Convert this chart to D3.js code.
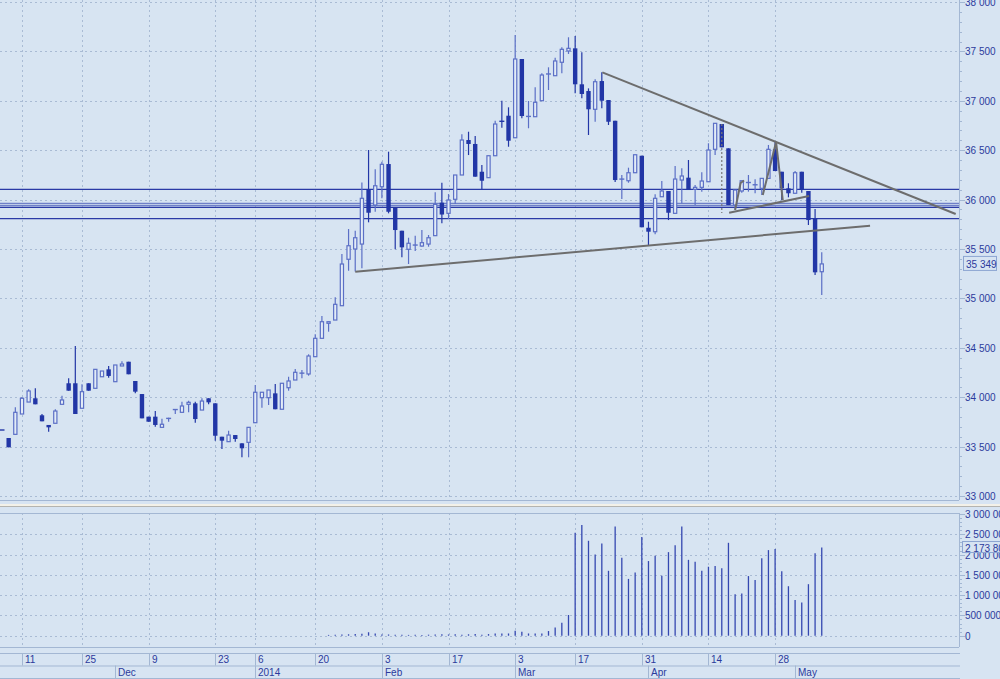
<!DOCTYPE html>
<html><head><meta charset="utf-8">
<script src="https://cdn.jsdelivr.net/npm/d3@7"></script>
<style>
body{margin:0;background:#d7e4f2;overflow:hidden}
svg{display:block}
text{font-family:"Liberation Sans",Arial,sans-serif;font-size:10px;fill:#2b3a9c}
</style>
</head><body>
<svg id="chart" width="1000" height="679"></svg>
<script>
// ---- data (trading-day index starts at firstIndex; index 0 = 11 Nov 2013) ----
const firstIndex = -3;
const open = [33668,33587,33624,33830,33951,33989,33817,33719,33736,33928,34141,34141,33888,34141,34090,34207,34282,34157,34316,34359,34164,34032,33803,33803,33695,33779,33870,33847,33928,33938,33870,33989,33938,33600,33550,33617,33533,33543,33742,33995,33995,34039,33878,34096,34174,34242,34235,34410,34596,34748,34781,34926,35396,35500,35550,36104,35945,36130,36360,35918,35685,35497,35533,35530,35550,35635,35969,35861,36003,36249,36603,36563,36282,36222,36444,36795,36849,36626,37423,36839,36839,37001,37268,37254,37390,37504,37531,37167,37099,36914,37200,37008,36798,36205,36191,36272,36444,35715,35675,36029,36087,35861,36198,36222,36104,36124,36181,36509,36765,36519,35945,36087,36171,36148,36114,36215,36509,36282,36114,36064,36282,36087,35811,35270];
const high = [33668,33587,33898,34002,34080,34090,33830,33719,33877,34015,34191,34518,34130,34141,34282,34265,34316,34326,34363,34359,34164,34032,33803,33860,33782,33792,33880,33954,33965,33954,33989,33989,33938,33600,33661,33617,33533,33695,34123,34050,34073,34134,34141,34207,34285,34275,34434,34637,34822,34764,35011,35449,35702,35685,36173,36502,36306,36383,36485,35918,35685,35614,35635,35692,35642,36074,36171,36056,36249,36661,36687,36643,36350,36444,36798,37001,36934,37666,37423,36998,37136,37278,37339,37436,37541,37643,37656,37491,37126,37217,37288,37008,36798,36249,36323,36454,36444,35776,36054,36188,36087,36340,36317,36401,36148,36276,36570,36772,36765,36519,36097,36191,36249,36205,36215,36553,36586,36282,36165,36289,36282,36087,35905,35467];
const low = [33668,33493,33624,33830,33951,33928,33756,33651,33736,33928,34066,33830,33888,34066,34090,34207,34197,34157,34316,34232,34039,33786,33752,33701,33695,33752,33830,33847,33847,33742,33870,33928,33560,33476,33550,33550,33392,33392,33742,33894,33921,33878,33878,34066,34174,34191,34218,34410,34596,34663,34781,34926,35280,35272,35305,35770,35877,36013,35861,35497,35416,35348,35480,35523,35523,35635,35760,35803,35955,36249,36451,36232,36104,36222,36444,36728,36535,36626,36823,36722,36839,37001,37109,37254,37278,37474,37076,37025,36654,36788,36924,36755,36178,36006,36171,36272,35720,35540,35649,36029,35793,35861,35962,36097,35945,36080,36181,36451,36529,35945,35895,36070,36080,36064,36046,36215,36289,35996,36023,36064,36070,35743,35237,35034];
const close = [33668,33493,33847,33989,34063,33928,33756,33695,33860,33972,34066,33830,34056,34066,34282,34265,34215,34326,34336,34232,34056,33786,33752,33719,33726,33792,33880,33911,33948,33779,33961,33948,33610,33560,33617,33577,33483,33695,34050,34050,34073,33878,34141,34164,34252,34245,34417,34596,34764,34764,34940,35348,35533,35614,36013,35867,36140,36357,35877,35692,35517,35558,35547,35564,35614,35952,35849,35996,36249,36603,36563,36232,36191,36444,36765,36790,36596,37423,36846,36845,36985,37261,37275,37403,37521,37531,37167,37069,36914,37193,37001,36788,36198,36210,36272,36454,35720,35675,36013,36087,35867,36208,36239,36097,36124,36188,36502,36772,36529,35945,36097,36191,36175,36152,36215,36509,36289,36114,36064,36272,36097,35793,35264,35349];
const volume = [0,0,0,0,0,0,0,0,0,0,0,0,0,0,0,0,0,0,0,0,0,0,0,0,0,0,0,0,0,0,0,0,0,0,0,0,0,0,0,0,0,0,0,0,0,0,0,0,0,
  20000,25000,30000,35000,40000,45000,85000,55000,30000,30000,25000,25000,20000,25000,20000,25000,30000,35000,30000,35000,25000,35000,40000,25000,40000,55000,55000,55000,
  123000,100000,55000,55000,55000,115000,200000,320000,510000,2540000,2730000,2340000,2000000,2270000,1600000,2690000,1920000,1400000,1560000,2430000,1840000,1970000,1480000,2060000,2230000,2690000,1870000,1820000,1600000,1700000,1720000,1660000,2290000,1020000,1040000,1470000,1370000,1910000,2110000,2140000,1590000,1220000,880000,820000,1270000,2030000,2173800];
const priceTicks = [33000,33500,34000,34500,35000,35500,36000,36500,37000,37500,38000];
const volumeTicks = [0,500000,1000000,1500000,2000000,2500000,3000000];
const dayTickIndex = [0,9,19,29,35,44,54,64,74,83,93,103,113];
const dayTickLabels = ["11","25","9","23","6","20","3","17","3","17","31","14","28"];
const monthTickIndex = [14,35,54,74,94,116];
const monthTickLabels = ["Dec","2014","Feb","Mar","Apr","May"];
const levelLines = [36104,35961,35939,35921,35808];
const levelStyles = ["dark","light","light","dark","dark"];
const trendLines = [
  [[50,35270],[127.25,35736]],
  [[87.08,37288],[140.1,35854]],
  [[106.1,35867],[118.1,36036]],
  [[107.0,35895],[107.82,36168],[108.34,36193]],
  [[111.15,36047],[113.15,36583],[114.15,35996]]
];
const markerLine = [[105,36765],[105,35864]];
const lastPrice = 35349;
const lastVolume = 2173800;

// ---- layout ----
const svg = d3.select("#chart");
const W = 1000, plotRight = 959;
const priceTop = 0, priceBottom = 500, volTop = 513, volBottom = 647;
const x = d3.scaleLinear().domain([0,113]).range([22,775.1]);
const y = d3.scaleLinear().domain([33000,38000]).range([496,2]);
const yv = d3.scaleLinear().domain([0,3000000]).range([635.7,514]);
const gridCol = "#a9bbd4", axisCol = "#a3b7d3";
const downCol = "#2236a6", upCol = "#5b6fc6", bg = "#d7e4f2";

svg.append("rect").attr("width",W).attr("height",679).attr("fill",bg);

const fmt = v => d3.format(",")(v).replace(/,/g," ");

// price grid
const g = svg.append("g");
g.selectAll(".hg").data(priceTicks).join("line")
  .attr("x1",0).attr("x2",plotRight).attr("y1",d=>Math.round(y(d))+0.5).attr("y2",d=>Math.round(y(d))+0.5)
  .attr("stroke",gridCol).attr("stroke-dasharray","2,3");
g.selectAll(".vg").data(dayTickIndex).join("line")
  .attr("x1",d=>Math.round(x(d))+0.5).attr("x2",d=>Math.round(x(d))+0.5).attr("y1",priceTop).attr("y2",priceBottom)
  .attr("stroke",gridCol).attr("stroke-dasharray","2,3");
// volume grid
g.selectAll(".hvg").data(volumeTicks.slice(0,-1)).join("line")
  .attr("x1",0).attr("x2",plotRight).attr("y1",d=>Math.round(yv(d))+0.5).attr("y2",d=>Math.round(yv(d))+0.5)
  .attr("stroke",gridCol).attr("stroke-dasharray","2,3");
g.selectAll(".vvg").data(dayTickIndex).join("line")
  .attr("x1",d=>Math.round(x(d))+0.5).attr("x2",d=>Math.round(x(d))+0.5).attr("y1",volTop).attr("y2",volBottom)
  .attr("stroke",gridCol).attr("stroke-dasharray","2,3");

// panel borders
svg.append("line").attr("x1",0).attr("x2",plotRight).attr("y1",priceBottom+0.5).attr("y2",priceBottom+0.5).attr("stroke",axisCol);
svg.append("rect").attr("x",0).attr("y",504).attr("width",W).attr("height",2).attr("fill","#f3f1e8");
svg.append("line").attr("x1",0).attr("x2",W).attr("y1",506.5).attr("y2",506.5).attr("stroke","#b4b4b0");
svg.append("line").attr("x1",0).attr("x2",plotRight).attr("y1",volTop+0.5).attr("y2",volTop+0.5).attr("stroke",axisCol);
svg.append("line").attr("x1",0).attr("x2",plotRight).attr("y1",volBottom+0.5).attr("y2",volBottom+0.5).attr("stroke",axisCol);

// level lines
svg.selectAll(".lvl").data(levelLines).join("line")
  .attr("x1",0).attr("x2",plotRight).attr("y1",d=>y(d)).attr("y2",d=>y(d))
  .attr("stroke",(d,i)=>levelStyles[i]==="dark"?"#2a3aa6":"#6f80c8")
  .attr("stroke-width",(d,i)=>levelStyles[i]==="dark"?1.3:1.4);

// candles
const candles = open.map((o,k)=>({i:k+firstIndex,o,h:high[k],l:low[k],c:close[k],v:volume[k]}));
const cg = svg.append("g");
candles.forEach(d=>{
  const cx = x(d.i);
  const up = d.c > d.o;
  const col = up ? upCol : downCol;
  const yh = y(d.h), yl = y(d.l), yo = y(d.o), yc = y(d.c);
  const top = Math.min(yo,yc), bot = Math.max(yo,yc);
  if (yl - yh > 0.5) cg.append("line").attr("x1",cx).attr("x2",cx).attr("y1",yh).attr("y2",yl).attr("stroke",col).attr("stroke-width",1.2);
  if (bot - top < 1.5) {
    cg.append("line").attr("x1",cx-2.5).attr("x2",cx+2.5).attr("y1",(top+bot)/2).attr("y2",(top+bot)/2).attr("stroke",col).attr("stroke-width",1.4);
  } else if (up) {
    cg.append("rect").attr("x",cx-1.6).attr("y",top).attr("width",3.2).attr("height",bot-top)
      .attr("fill","#e3ecf7").attr("stroke",col).attr("stroke-width",1.2);
  } else {
    cg.append("rect").attr("x",cx-2.2).attr("y",top).attr("width",4.4).attr("height",bot-top).attr("fill",col);
  }
});

// volume bars
svg.append("g").selectAll("line").data(candles.filter(d=>d.v>0)).join("line")
  .attr("x1",d=>x(d.i)).attr("x2",d=>x(d.i)).attr("y1",d=>yv(0)).attr("y2",d=>yv(d.v))
  .attr("stroke","#3447b0").attr("stroke-width",1.3);

// trend lines
const line = d3.line().x(p=>x(p[0])).y(p=>y(p[1]));
svg.append("g").selectAll("path").data(trendLines).join("path")
  .attr("d",line).attr("fill","none").attr("stroke","#6d6d6d").attr("stroke-width",2);
svg.append("path").attr("d",line(markerLine)).attr("stroke","#777").attr("stroke-width",1.2).attr("stroke-dasharray","2,2");

// right axis
svg.append("line").attr("x1",plotRight+0.5).attr("x2",plotRight+0.5).attr("y1",0).attr("y2",priceBottom).attr("stroke",axisCol);
svg.append("line").attr("x1",plotRight+0.5).attr("x2",plotRight+0.5).attr("y1",volTop).attr("y2",volBottom).attr("stroke",axisCol);
const minorP = d3.range(33000,38001,100);
svg.append("g").selectAll("line").data(minorP).join("line")
  .attr("x1",plotRight).attr("x2",d=>plotRight + (d%500===0?6:3)).attr("y1",d=>Math.round(y(d))+0.5).attr("y2",d=>Math.round(y(d))+0.5).attr("stroke",axisCol);
const minorV = d3.range(0,3000001,100000);
svg.append("g").selectAll("line").data(minorV).join("line")
  .attr("x1",plotRight).attr("x2",d=>plotRight + (d%500000===0?6:3)).attr("y1",d=>Math.round(yv(d))+0.5).attr("y2",d=>Math.round(yv(d))+0.5).attr("stroke",axisCol);
svg.append("g").selectAll("text").data(priceTicks).join("text")
  .attr("x",965).attr("y",d=>y(d)+4).text(fmt);
svg.append("g").selectAll("text").data(volumeTicks).join("text")
  .attr("x",965).attr("y",d=>yv(d)+4).text(fmt);

// last-value boxes
svg.append("rect").attr("x",963.5).attr("y",y(lastPrice)-7.5).attr("width",33).attr("height",14).attr("fill",bg).attr("stroke","#8da5d2");
svg.append("text").attr("x",966).attr("y",y(lastPrice)+4).text(fmt(lastPrice));
svg.append("rect").attr("x",962.5).attr("y",yv(lastVolume)-6).attr("width",40).attr("height",11).attr("fill",bg).attr("stroke","#8da5d2");
svg.append("text").attr("x",965).attr("y",yv(lastVolume)+4).text(fmt(lastVolume));

// x axis rows
const rowTop = 653, rowMid = 665.5, rowBot = 678;
[rowTop,rowMid,rowBot].forEach(v=>svg.append("line").attr("x1",0).attr("x2",plotRight+1).attr("y1",v+0.5).attr("y2",v+0.5).attr("stroke",axisCol));
svg.append("g").selectAll("line").data(dayTickIndex).join("line")
  .attr("x1",d=>Math.round(x(d))+0.5).attr("x2",d=>Math.round(x(d))+0.5).attr("y1",rowTop).attr("y2",rowMid).attr("stroke",axisCol);
svg.append("g").selectAll("text").data(dayTickIndex).join("text")
  .attr("x",d=>Math.round(x(d))+3).attr("y",rowTop+10).text((d,i)=>dayTickLabels[i]);
svg.append("g").selectAll("line").data(monthTickIndex).join("line")
  .attr("x1",d=>Math.round(x(d))+0.5).attr("x2",d=>Math.round(x(d))+0.5).attr("y1",rowMid).attr("y2",rowBot).attr("stroke",axisCol);
svg.append("g").selectAll("text").data(monthTickIndex).join("text")
  .attr("x",d=>Math.round(x(d))+3).attr("y",rowMid+10).text((d,i)=>monthTickLabels[i]);
</script>
</body></html>
